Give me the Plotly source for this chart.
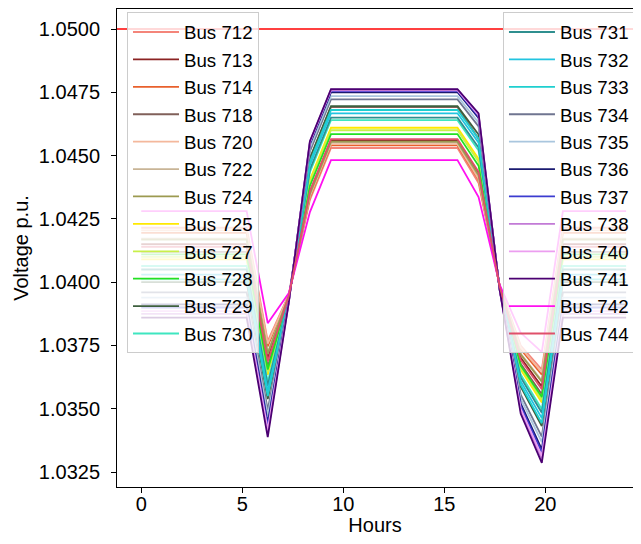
import plotly.graph_objects as go

hours = [0.0, 1.043, 2.087, 3.130, 4.174, 5.217, 6.261, 7.304, 8.348, 9.391, 10.435, 11.478,
         12.522, 13.565, 14.609, 15.652, 16.696, 17.739, 18.783, 19.826, 20.870, 21.913, 22.957, 24.0]

upper_limit = 1.05

v712 = [1.04215, 1.04215, 1.04215, 1.04215, 1.04215, 1.04215, 1.03767, 1.03951, 1.04325, 1.04530, 1.04530, 1.04530, 1.04530, 1.04530, 1.04530, 1.04530, 1.04392, 1.03987, 1.03750, 1.03655, 1.04215, 1.04215, 1.04215, 1.04215]
v713 = [1.04150, 1.04150, 1.04150, 1.04150, 1.04150, 1.04150, 1.03698, 1.03946, 1.04355, 1.04560, 1.04560, 1.04560, 1.04560, 1.04560, 1.04560, 1.04560, 1.04430, 1.03984, 1.03701, 1.03588, 1.04150, 1.04150, 1.04150, 1.04150]
v714 = [1.04195, 1.04195, 1.04195, 1.04195, 1.04195, 1.04195, 1.03746, 1.03950, 1.04335, 1.04540, 1.04540, 1.04540, 1.04540, 1.04540, 1.04540, 1.04540, 1.04404, 1.03986, 1.03735, 1.03635, 1.04195, 1.04195, 1.04195, 1.04195]
v718 = [1.04120, 1.04120, 1.04120, 1.04120, 1.04120, 1.04120, 1.03666, 1.03943, 1.04487, 1.04692, 1.04692, 1.04692, 1.04692, 1.04692, 1.04692, 1.04692, 1.04566, 1.03982, 1.03678, 1.03557, 1.04120, 1.04120, 1.04120, 1.04120]
v720 = [1.04205, 1.04205, 1.04205, 1.04205, 1.04205, 1.04205, 1.03757, 1.03950, 1.04340, 1.04545, 1.04545, 1.04545, 1.04545, 1.04545, 1.04545, 1.04545, 1.04408, 1.03986, 1.03742, 1.03645, 1.04205, 1.04205, 1.04205, 1.04205]
v722 = [1.04172, 1.04172, 1.04172, 1.04172, 1.04172, 1.04172, 1.03722, 1.03947, 1.04347, 1.04552, 1.04552, 1.04552, 1.04552, 1.04552, 1.04552, 1.04552, 1.04419, 1.03985, 1.03717, 1.03611, 1.04172, 1.04172, 1.04172, 1.04172]
v724 = [1.04168, 1.04168, 1.04168, 1.04168, 1.04168, 1.04168, 1.03717, 1.03947, 1.04350, 1.04555, 1.04555, 1.04555, 1.04555, 1.04555, 1.04555, 1.04555, 1.04423, 1.03985, 1.03714, 1.03607, 1.04168, 1.04168, 1.04168, 1.04168]
v725 = [1.04090, 1.04090, 1.04090, 1.04090, 1.04090, 1.04090, 1.03634, 1.03940, 1.04405, 1.04610, 1.04610, 1.04610, 1.04610, 1.04610, 1.04610, 1.04610, 1.04487, 1.03981, 1.03655, 1.03525, 1.04090, 1.04090, 1.04090, 1.04090]
v727 = [1.04100, 1.04100, 1.04100, 1.04100, 1.04100, 1.04100, 1.03645, 1.03941, 1.04395, 1.04600, 1.04600, 1.04600, 1.04600, 1.04600, 1.04600, 1.04600, 1.04476, 1.03981, 1.03662, 1.03536, 1.04100, 1.04100, 1.04100, 1.04100]
v728 = [1.04110, 1.04110, 1.04110, 1.04110, 1.04110, 1.04110, 1.03655, 1.03942, 1.04380, 1.04585, 1.04585, 1.04585, 1.04585, 1.04585, 1.04585, 1.04585, 1.04460, 1.03982, 1.03670, 1.03546, 1.04110, 1.04110, 1.04110, 1.04110]
v729 = [1.04000, 1.04000, 1.04000, 1.04000, 1.04000, 1.04000, 1.03538, 1.03932, 1.04490, 1.04695, 1.04695, 1.04695, 1.04695, 1.04695, 1.04695, 1.04695, 1.04583, 1.03977, 1.03587, 1.03432, 1.04000, 1.04000, 1.04000, 1.04000]
v730 = [1.04064, 1.04064, 1.04064, 1.04064, 1.04064, 1.04064, 1.03606, 1.03938, 1.04435, 1.04640, 1.04640, 1.04640, 1.04640, 1.04640, 1.04640, 1.04640, 1.04520, 1.03980, 1.03635, 1.03498, 1.04064, 1.04064, 1.04064, 1.04064]
v731 = [1.04050, 1.04050, 1.04050, 1.04050, 1.04050, 1.04050, 1.03591, 1.03937, 1.04445, 1.04650, 1.04650, 1.04650, 1.04650, 1.04650, 1.04650, 1.04650, 1.04532, 1.03979, 1.03624, 1.03484, 1.04050, 1.04050, 1.04050, 1.04050]
v732 = [1.04030, 1.04030, 1.04030, 1.04030, 1.04030, 1.04030, 1.03570, 1.03935, 1.04462, 1.04667, 1.04667, 1.04667, 1.04667, 1.04667, 1.04667, 1.04667, 1.04551, 1.03978, 1.03609, 1.03463, 1.04030, 1.04030, 1.04030, 1.04030]
v733 = [1.04011, 1.04011, 1.04011, 1.04011, 1.04011, 1.04011, 1.03550, 1.03933, 1.04475, 1.04680, 1.04680, 1.04680, 1.04680, 1.04680, 1.04680, 1.04680, 1.04567, 1.03977, 1.03595, 1.03443, 1.04011, 1.04011, 1.04011, 1.04011]
v734 = [1.03960, 1.03960, 1.03960, 1.03960, 1.03960, 1.03960, 1.03495, 1.03929, 1.04517, 1.04722, 1.04722, 1.04722, 1.04722, 1.04722, 1.04722, 1.04722, 1.04615, 1.03975, 1.03556, 1.03390, 1.03960, 1.03960, 1.03960, 1.03960]
v735 = [1.03939, 1.03939, 1.03939, 1.03939, 1.03939, 1.03939, 1.03473, 1.03927, 1.04530, 1.04735, 1.04735, 1.04735, 1.04735, 1.04735, 1.04735, 1.04735, 1.04630, 1.03974, 1.03540, 1.03368, 1.03939, 1.03939, 1.03939, 1.03939]
v736 = [1.03912, 1.03912, 1.03912, 1.03912, 1.03912, 1.03912, 1.03444, 1.03925, 1.04545, 1.04750, 1.04750, 1.04750, 1.04750, 1.04750, 1.04750, 1.04750, 1.04649, 1.03972, 1.03520, 1.03340, 1.03912, 1.03912, 1.03912, 1.03912]
v737 = [1.03900, 1.03900, 1.03900, 1.03900, 1.03900, 1.03900, 1.03431, 1.03924, 1.04550, 1.04755, 1.04755, 1.04755, 1.04755, 1.04755, 1.04755, 1.04755, 1.04655, 1.03972, 1.03510, 1.03328, 1.03900, 1.03900, 1.03900, 1.03900]
v738 = [1.03875, 1.03875, 1.03875, 1.03875, 1.03875, 1.03875, 1.03404, 1.03921, 1.04555, 1.04760, 1.04760, 1.04760, 1.04760, 1.04760, 1.04760, 1.04760, 1.04663, 1.03971, 1.03492, 1.03302, 1.03875, 1.03875, 1.03875, 1.03875]
v740 = [1.03886, 1.03886, 1.03886, 1.03886, 1.03886, 1.03886, 1.03416, 1.03922, 1.04553, 1.04758, 1.04758, 1.04758, 1.04758, 1.04758, 1.04758, 1.04758, 1.04660, 1.03971, 1.03500, 1.03313, 1.03886, 1.03886, 1.03886, 1.03886]
v741 = [1.03860, 1.03860, 1.03860, 1.03860, 1.03860, 1.03860, 1.03388, 1.03920, 1.04557, 1.04762, 1.04762, 1.04762, 1.04762, 1.04762, 1.04762, 1.04762, 1.04667, 1.03970, 1.03480, 1.03286, 1.03860, 1.03860, 1.03860, 1.03860]
v742 = [1.04281, 1.04281, 1.04281, 1.04281, 1.04281, 1.04281, 1.03838, 1.03957, 1.04277, 1.04482, 1.04482, 1.04482, 1.04482, 1.04482, 1.04482, 1.04482, 1.04336, 1.03990, 1.03800, 1.03724, 1.04281, 1.04281, 1.04281, 1.04281]
v744 = [1.04140, 1.04140, 1.04140, 1.04140, 1.04140, 1.04140, 1.03687, 1.03945, 1.04360, 1.04565, 1.04565, 1.04565, 1.04565, 1.04565, 1.04565, 1.04565, 1.04436, 1.03983, 1.03693, 1.03577, 1.04140, 1.04140, 1.04140, 1.04140]

bus_names = ["Bus 712", "Bus 713", "Bus 714", "Bus 718", "Bus 720", "Bus 722", "Bus 724", "Bus 725",
             "Bus 727", "Bus 728", "Bus 729", "Bus 730", "Bus 731", "Bus 732", "Bus 733", "Bus 734",
             "Bus 735", "Bus 736", "Bus 737", "Bus 738", "Bus 740", "Bus 741", "Bus 742", "Bus 744"]
bus_values = [v712, v713, v714, v718, v720, v722, v724, v725, v727, v728, v729, v730, v731, v732,
              v733, v734, v735, v736, v737, v738, v740, v741, v742, v744]
bus_colors = ["#f4857a", "#8b2323", "#e8602c", "#80605a", "#f4b89c", "#c8b496", "#9c9a50", "#ffe900",
              "#c8f04a", "#22e022", "#3d5f3d", "#3ee6c0", "#2f8f8f", "#22c4e0", "#1ecfcf", "#6f7590",
              "#a9c6de", "#1a1a70", "#3c3cd0", "#c27ad6", "#ec9ef0", "#4b0072", "#ff10f0", "#e0506a"]

y_ticks = [1.0325, 1.0350, 1.0375, 1.0400, 1.0425, 1.0450, 1.0475, 1.0500]
x_ticks = [0, 5, 10, 15, 20]

FONT = "Liberation Sans, Arial, sans-serif"

fig = go.Figure()
for i, (name, vals, col) in enumerate(zip(bus_names, bus_values, bus_colors)):
    fig.add_trace(go.Scatter(
        x=hours, y=vals, mode="lines", name=name, legendgroup=name,
        line=dict(color=col, width=1.8),
        legend="legend" if i < 12 else "legend2",
    ))

fig.add_shape(type="line", xref="paper", x0=0, x1=1, yref="y", y0=upper_limit, y1=upper_limit,
              line=dict(color="#ff0000", width=1.3), layer="below")

legend_common = dict(
    bgcolor="rgba(255,255,255,0.8)", bordercolor="#cccccc", borderwidth=1,
    font=dict(family=FONT, size=18.7, color="#000000"),
    yanchor="top", y=0.993, tracegroupgap=0.1, itemwidth=46,
)

fig.update_layout(
    width=625, height=528,
    margin=dict(l=109, r=0, t=1, b=49, autoexpand=False),
    paper_bgcolor="white", plot_bgcolor="white",
    font=dict(family=FONT, size=20, color="#000000"),
    showlegend=True,
    legend=dict(x=0.0194, xanchor="left", **legend_common),
    legend2=dict(x=0.748, xanchor="left", **legend_common),
    xaxis=dict(
        range=[-1.2, 24.34], tickvals=x_ticks, ticks="outside", ticklen=5, tickcolor="black",
        showline=True, linecolor="black", linewidth=1, mirror=True, automargin=False,
        showgrid=False, zeroline=False, tickfont=dict(size=20), ticklabelstandoff=-6,
        title=dict(text="Hours", font=dict(size=20), standoff=14),
    ),
    yaxis=dict(
        range=[1.03191, 1.05079], tickvals=y_ticks, tickformat=".4f", ticks="outside", ticklen=5,
        tickcolor="black", showline=True, linecolor="black", linewidth=1, mirror=False,
        automargin=False,
        showgrid=False, zeroline=False, tickfont=dict(size=20), ticklabelstandoff=7,
        title=dict(text="Voltage p.u.", font=dict(size=20), standoff=4),
    ),
)

fig.write_html("out.html")
